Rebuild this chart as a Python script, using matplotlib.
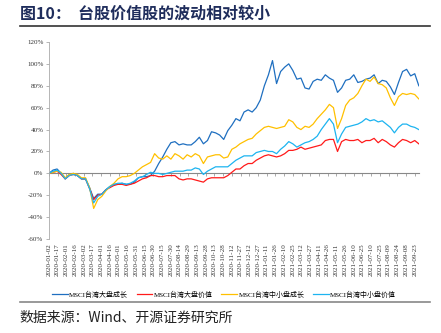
import matplotlib
matplotlib.use("Agg")
import matplotlib.pyplot as plt
import matplotlib.dates as mdates
from matplotlib.lines import Line2D
import pandas as pd

plt.rcParams["font.family"] = ["Liberation Serif", "Noto Sans CJK SC", "DejaVu Sans"]

# ── Data (weekly readings, cumulative return %) ─────────────────────────────
dates = pd.date_range("2020-01-02", periods=92, freq="7D")
tick_dates = pd.date_range("2020-01-02", "2021-09-23", freq="15D")

large_growth = [0, 3, 4, 0, -5, -1, 0, -2, -5, -5, -13, -23, -19, -19, -15, -12, -10, -10, -9, -10,
                -10, -8, -4, -3, -3,
                -2, 2, 9, 15, 22, 28, 29, 26, 27, 26, 26, 29, 33, 27, 30, 38, 37, 35, 31, 39,
                44, 50, 48, 56, 58, 56, 60, 67, 80, 90, 103, 82,
                93, 97, 100, 94, 86, 87, 78, 77, 84, 86, 85, 90, 87, 85, 74, 78, 85, 86, 90, 83,
                84, 86, 87, 90, 82, 85, 84, 79, 72, 83, 93, 95, 89, 91, 80]
large_value = [0, 1, 2, -1, -5, -2, -1, -2, -5, -5, -14, -24, -20, -19, -15, -13, -11, -10, -10, -11,
               -10, -9, -7, -5, -4,
               -2, -2, -3, -3, -2, -2, -2, -5, -6, -5, -5, -6, -7, -8, -5, -4, -4, -4, -4, -2,
               1, 4, 4, 7, 9, 9, 12, 14, 16, 17, 16, 15,
               16, 18, 21, 21, 22, 24, 22, 23, 24, 25, 26, 30, 31, 31, 20, 29, 31, 30, 30, 31,
               28, 30, 30, 32, 28, 31, 29, 26, 24, 28, 31, 30, 28, 30, 27]
mid_growth = [0, 1, 2, 1, -4, -1, 0, -1, -4, -4, -13, -32, -24, -21, -16, -12, -9, -5, -3, -3,
              -2, 0, 3, 6, 8,
              10, 18, 14, 13, 16, 13, 18, 16, 13, 17, 15, 18, 16, 9, 15, 16, 17, 17, 14, 15,
              22, 24, 27, 29, 31, 32, 36, 39, 42, 43, 42, 41,
              42, 43, 49, 47, 42, 40, 43, 42, 45, 50, 54, 58, 63, 60, 41, 50, 62, 67, 69, 73,
              80, 86, 84, 88, 82, 81, 78, 69, 62, 70, 73, 72, 73, 72, 68]
mid_value = [0, 2, 3, 0, -5, -2, -1, -2, -5, -5, -14, -27, -21, -19, -15, -12, -10, -9, -9, -10,
             -9, -7, -4, -3, -1,
             1, 0, 0, -1, 0, 1, 2, 2, 2, 3, 3, 5, 4, -1, 2, 4, 6, 6, 6, 6,
             9, 12, 14, 16, 16, 16, 19, 20, 21, 20, 20, 18,
             22, 25, 29, 27, 24, 26, 28, 29, 31, 34, 40, 45, 50, 45, 28, 36, 42, 43, 44, 45,
             47, 50, 48, 49, 47, 48, 45, 42, 37, 42, 45, 45, 43, 42, 40]

series_names = ["MSCI台湾大盘成长", "MSCI台湾大盘价值", "MSCI台湾中小盘成长", "MSCI台湾中小盘价值"]
series_colors = ["#1f6fc0", "#ff1a1a", "#ffc000", "#1db4f0"]
y_ticks = [-60, -40, -20, 0, 20, 40, 60, 80, 100, 120]

# ── Figure ──────────────────────────────────────────────────────────────────
fig = plt.figure(figsize=(4.41, 3.33), dpi=100)
ax = fig.add_axes([0.111, 0.282, 0.840, 0.592])

for vals, name, color in zip([large_growth, large_value, mid_growth, mid_value],
                             series_names, series_colors):
    ax.plot(dates, vals, color=color, linewidth=0.9, label=name)

ymin, ymax = -60, 120
ax.set_ylim(ymin, ymax)
ax.set_xlim(pd.Timestamp("2020-01-02"), pd.Timestamp("2021-10-01"))
ax.set_yticks(y_ticks)
ax.set_yticklabels([f"{v}%" for v in y_ticks])
ax.tick_params(axis="y", labelsize=5, colors="#333333", length=2, width=0.5,
               color="#999999", pad=2)

for side in ["top", "right", "bottom"]:
    ax.spines[side].set_visible(False)
ax.spines["left"].set_color("#aaaaaa")
ax.spines["left"].set_linewidth(0.6)

# date labels along the bottom of the axes
ax.set_xticks(tick_dates)
ax.set_xticklabels([d.strftime("%Y-%m-%d") for d in tick_dates], rotation=90)
ax.tick_params(axis="x", labelsize=5, colors="#333333", length=0, pad=3)

# zero line carrying the tick marks
zero = ax.secondary_xaxis((0 - ymin) / (ymax - ymin))
zero.set_xticks(mdates.date2num(tick_dates))
zero.tick_params(axis="x", direction="out", length=2, width=0.5, color="#888888",
                 labelbottom=False)
zero.spines["bottom"].set_color("#888888")
zero.spines["bottom"].set_linewidth(0.8)

fig.legend(loc="center", bbox_to_anchor=(0.508, 0.117), ncol=4, frameon=False,
           prop={"size": 5}, handlelength=2.3, handletextpad=0.2, columnspacing=1.2)

# ── Title, rules and source ─────────────────────────────────────────────────
fig.text(0.045, 0.958, "图10：  台股价值股的波动相对较小", fontsize=11.5, fontweight="bold",
         color="#1f2d5c", va="center", ha="left",
         family=["Noto Sans CJK SC", "DejaVu Sans"])
fig.add_artist(Line2D([0.045, 0.975], [0.922, 0.922], color="#333333", linewidth=1.2))
fig.add_artist(Line2D([0.045, 0.975], [0.093, 0.093], color="#888888", linewidth=1.2))
fig.text(0.045, 0.045, "数据来源：Wind、开源证券研究所", fontsize=10, color="#222222",
         va="center", ha="left", family=["Noto Sans CJK SC", "Liberation Serif"])

fig.savefig("out.png", dpi=100)
